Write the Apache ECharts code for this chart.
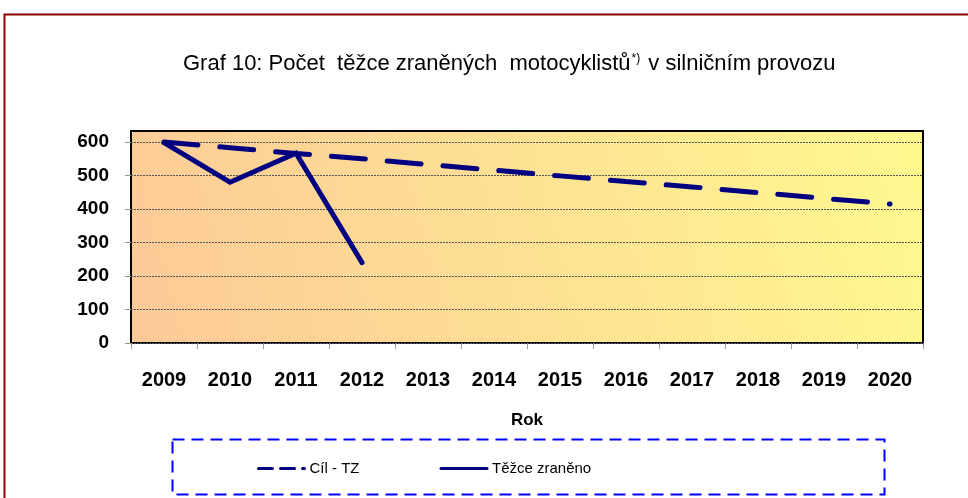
<!DOCTYPE html>
<html>
<head>
<meta charset="utf-8">
<script src="https://cdn.jsdelivr.net/npm/echarts@6/dist/echarts.min.js"></script>
<style>
  html, body { margin: 0; padding: 0; background: #fff; }
  #chart { width: 968px; height: 498px; }
</style>
</head>
<body>
<div id="chart"></div>
<script>
// data
const years = ['2009', '2010', '2011', '2012', '2013', '2014', '2015', '2016', '2017', '2018', '2019', '2020'];
const goalTZ = [600, 583, 566, 550, 533, 516, 499, 482, 466, 449, 432, 415];
const seriouslyInjured = [598, 480, 567, 240];
const yTicks = [0, 100, 200, 300, 400, 500, 600];

const navy = '#000080';
const font = 'Liberation Sans, Arial, sans-serif';
const chart = echarts.init(document.getElementById('chart'));

chart.setOption({
  backgroundColor: '#fff',
  animation: false,
  textStyle: { fontFamily: font },
  title: {
    text: '{t|Graf 10: Počet  těžce zraněných  motocyklistů}{s|*)}{t| v silničním provozu}',
    left: 178,
    top: 48,
    textStyle: {
      rich: {
        t: { fontSize: 22, fontWeight: 'normal', color: '#000', fontFamily: font },
        s: { fontSize: 12, fontWeight: 'normal', color: '#000', verticalAlign: 'top', padding: [0, 2, 10, 1], fontFamily: font }
      }
    }
  },
  // outer frame and dashed legend box
  graphic: [
    {
      type: 'rect', left: 2, top: 12, z: -10, silent: true,
      shape: { width: 980, height: 500 },
      style: { fill: 'none', stroke: '#8b0000', lineWidth: 2 }
    },
    {
      type: 'rect', left: 170, top: 437, silent: true,
      shape: { width: 712, height: 55 },
      style: { fill: 'none', stroke: '#0000ff', lineWidth: 2, lineDash: [12, 7] }
    }
  ],
  grid: {
    left: 131, right: 45, top: 131, bottom: 155,
    show: true,
    borderColor: '#000',
    borderWidth: 2,
    backgroundColor: new echarts.graphic.LinearGradient(0, 1, 1, 0, [
      { offset: 0, color: '#fcc998' },
      { offset: 1, color: '#fff98f' }
    ])
  },
  legend: {
    left: 252,
    top: 456,
    itemWidth: 46,
    itemHeight: 16,
    itemGap: 80,
    itemStyle: { opacity: 0 },
    textStyle: { fontSize: 15, color: '#000' },
    data: [
      { name: 'Cíl - TZ', lineStyle: { type: [14, 8], width: 3 } },
      { name: 'Těžce zraněno', lineStyle: { width: 3 } }
    ]
  },
  xAxis: {
    type: 'category',
    data: years,
    boundaryGap: true,
    name: 'Rok',
    nameLocation: 'middle',
    nameGap: 69,
    nameTextStyle: { fontSize: 17, fontWeight: 'bold', color: '#000' },
    axisLine: { show: false },
    axisTick: { show: true, length: 6, interval: 0, lineStyle: { color: '#999', width: 1 } },
    axisLabel: { margin: 27, fontSize: 20, fontWeight: 'bold', color: '#000' }
  },
  yAxis: {
    type: 'value',
    min: 0,
    max: 633,
    interval: 100,
    axisLine: { show: false },
    axisTick: { show: true, length: 6, customValues: yTicks, lineStyle: { color: '#999', width: 1 } },
    axisLabel: {
      margin: 22, fontSize: 19, fontWeight: 'bold', color: '#000',
      formatter: v => (yTicks.indexOf(v) >= 0 ? String(v) : '')
    },
    splitLine: { show: true, lineStyle: { color: '#555', width: 1, type: [2, 1] } }
  },
  series: [
    {
      name: 'Cíl - TZ',
      type: 'line',
      data: goalTZ,
      symbol: 'none',
      lineStyle: { color: navy, width: 5, type: [34, 22], cap: 'round' },
      itemStyle: { color: navy }
    },
    {
      name: 'Těžce zraněno',
      type: 'line',
      data: seriouslyInjured,
      symbol: 'none',
      lineStyle: { color: navy, width: 5, cap: 'round', join: 'miter' },
      itemStyle: { color: navy }
    }
  ]
});
</script>
</body>
</html>
